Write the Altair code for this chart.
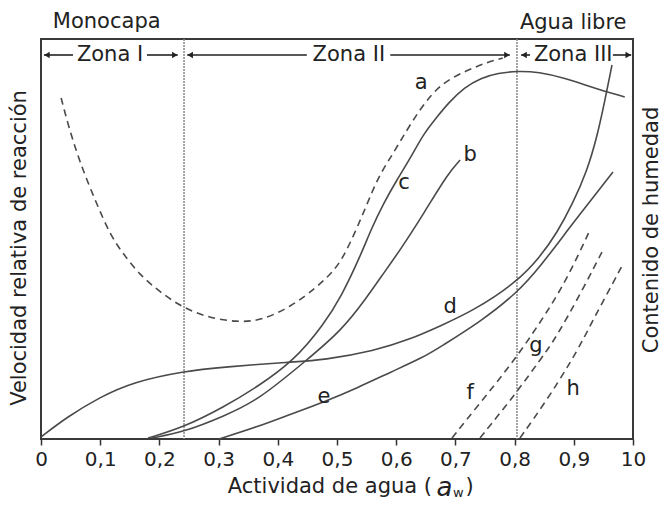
import altair as alt
import pandas as pd

FONT = "DejaVu Sans"
INK = "#222222"
LINE = "#4a4a4a"

# ---- axis ticks ----
x_ticks = [0, 0.1, 0.2, 0.3, 0.4, 0.5, 0.6, 0.7, 0.8, 0.9, 1.0]
x_labels = ["0", "0,1", "0,2", "0,3", "0,4", "0,5", "0,6", "0,7", "0,8", "0,9", "10"]

# ---- curves (x = water activity, y = relative value 0-100) ----
a_x = [0.034, 0.046, 0.059, 0.074, 0.095, 0.117, 0.139, 0.167, 0.201, 0.240, 0.285, 0.331,
       0.370, 0.422, 0.466, 0.495, 0.515, 0.544, 0.559, 0.574, 0.591, 0.608, 0.642, 0.676,
       0.721, 0.755, 0.780]
a_y = [85.25, 78.5, 72.25, 66, 58.5, 51, 46.25, 41, 36.75, 32.75, 30.25, 29.25,
       29.5, 33, 38, 42, 46.5, 56.25, 61.75, 66.5, 70.5, 74.75, 83, 89,
       92.25, 94.25, 95.25]

b_x = [0.1875, 0.242, 0.309, 0.365, 0.449, 0.507, 0.551, 0.573, 0.608, 0.647, 0.688, 0.708]
b_y = [0.25, 1.75, 5.75, 9.5, 19.75, 27, 35.5, 40.25, 47.5, 56.5, 66.5, 69.75]

c_x = [0.181, 0.242, 0.309, 0.365, 0.427, 0.478, 0.507, 0.541, 0.557, 0.579, 0.601, 0.625,
       0.647, 0.669, 0.688, 0.716, 0.743, 0.772, 0.806, 0.840, 0.885, 0.929, 0.986]
c_y = [0.25, 3, 8, 13, 19.5, 28.75, 35.5, 46.25, 52.25, 59, 64.75, 70.5,
       76.5, 80.5, 84, 88, 90.25, 91.5, 92, 91.75, 90.25, 88, 85.5]

d_x = [0, 0.0439, 0.0997, 0.1554, 0.2416, 0.3091, 0.4223, 0.478, 0.5625, 0.625, 0.674,
       0.7297, 0.804, 0.8429, 0.8716, 0.8986, 0.9223, 0.9392, 0.9527, 0.9645]
d_y = [0.5, 5.5, 10.5, 14.25, 17, 18, 19.25, 19.75, 22, 25, 28.25,
       32, 39.25, 45.5, 51.5, 59, 67, 75.5, 84.75, 93.5]

e_x = [0.3007, 0.3649, 0.4223, 0.478, 0.5338, 0.5912, 0.647, 0.674, 0.7416, 0.804,
       0.8429, 0.8986, 0.9662]
e_y = [0, 3, 6.25, 9.25, 12.75, 16.75, 20.5, 23, 29.25, 36.5, 43, 54, 66.75]

f_x = [0.6943, 0.7416, 0.7838, 0.8176, 0.8547, 0.8885, 0.9274]
f_y = [0.25, 9, 16.75, 23.5, 31.75, 40, 52.25]

g_x = [0.7416, 0.804, 0.8429, 0.8649, 0.8885, 0.9189, 0.9476]
g_y = [0.25, 11.75, 19.75, 24.25, 30.25, 38.5, 46.75]

h_x = [0.8091, 0.8547, 0.8936, 0.9155, 0.9324, 0.9814]
h_y = [0.25, 9.75, 19, 24.75, 29.75, 43.25]

curves = [("a", a_x, a_y, "dashed"), ("b", b_x, b_y, "solid"), ("c", c_x, c_y, "solid"),
          ("d", d_x, d_y, "solid"), ("e", e_x, e_y, "solid"), ("f", f_x, f_y, "dashed"),
          ("g", g_x, g_y, "dashed"), ("h", h_x, h_y, "dashed")]

rows = []
for name, xs, ys, style in curves:
    for i, (xv, yv) in enumerate(zip(xs, ys)):
        rows.append({"curva": name, "x": xv, "y": yv, "i": i, "estilo": style})
df = pd.DataFrame(rows)

# ---- curve labels ----
lab_text = ["a", "b", "c", "d", "e", "f", "g", "h"]
lab_x = [0.642, 0.725, 0.613, 0.691, 0.478, 0.725, 0.836, 0.899]
lab_y = [89, 71, 64, 33, 10.5, 11.5, 23.25, 12.5]
df_lab = pd.DataFrame({"x": lab_x, "y": lab_y, "t": lab_text})

# ---- zones ----
zone_bounds = [0.2416, 0.804]
zone_names = ["Zona I", "Zona II", "Zona III"]
zone_name_x = [0.1166, 0.520, 0.899]
zone_y = 96
seg_x = [0.005, 0.179, 0.247, 0.590, 0.811, 0.966]
seg_x2 = [0.054, 0.231, 0.449, 0.792, 0.826, 0.997]
head_x = [0.0101, 0.226, 0.252, 0.787, 0.816, 0.992]
head_shape = ["triangle-left", "triangle-right", "triangle-left", "triangle-right",
              "triangle-left", "triangle-right"]

df_bounds = pd.DataFrame({"x": zone_bounds})
df_seg = pd.DataFrame({"x": seg_x, "x2": seg_x2, "y": [zone_y] * len(seg_x)})
df_head = pd.DataFrame({"x": head_x, "y": [zone_y] * len(head_x), "forma": head_shape})
df_zone = pd.DataFrame({"x": zone_name_x, "y": [zone_y] * 3, "t": zone_names})

top_text = ["Monocapa", "Agua libre"]
top_x = [0.111, 0.899]
top_y = [104.25, 104]
df_top = pd.DataFrame({"x": top_x, "y": top_y, "t": top_text})

# ---- encodings ----
label_expr = "[" + ",".join("'" + s + "'" for s in x_labels) + "][round(datum.value*10)]"
XS = alt.Scale(domain=[0, 1], nice=False, zero=False)
YS = alt.Scale(domain=[0, 100], nice=False, zero=False)
X = alt.X("x:Q", scale=XS, axis=alt.Axis(values=x_ticks, labelExpr=label_expr, title=None,
                                         grid=False, domain=False, ticks=True, tickSize=6,
                                         tickColor="#333", tickWidth=1.5,
                                         labelFont=FONT, labelFontSize=20, labelColor=INK,
                                         labelPadding=4, labelFlush=False))
Y = alt.Y("y:Q", scale=YS, axis=None)

solid = alt.Chart(df[df.estilo == "solid"]).mark_line(
    color=LINE, strokeWidth=1.6, interpolate="basis"
).encode(x=X, y=Y, detail="curva:N", order="i:Q")

dashed = alt.Chart(df[df.estilo == "dashed"]).mark_line(
    color=LINE, strokeWidth=1.6, interpolate="basis", strokeDash=[7, 5]
).encode(x=X, y=Y, detail="curva:N", order="i:Q")

bounds = alt.Chart(df_bounds).mark_rule(color="#888", strokeWidth=1.5, strokeDash=[2, 1]).encode(x=X)

segs = alt.Chart(df_seg).mark_rule(color="#222", strokeWidth=1.6).encode(
    x=X, x2=alt.X2("x2:Q"), y=Y)

heads = alt.Chart(df_head).mark_point(filled=True, color="#222", size=40, opacity=1).encode(
    x=X, y=Y, shape=alt.Shape("forma:N", scale=None))

txt = dict(font=FONT, fontSize=21, color=INK, align="center", baseline="middle")
zone_txt = alt.Chart(df_zone).mark_text(**txt).encode(x=X, y=Y, text="t:N")
top_txt = alt.Chart(df_top).mark_text(**txt).encode(x=X, y=Y, text="t:N")
lab_txt = alt.Chart(df_lab).mark_text(**txt).encode(x=X, y=Y, text="t:N")

# axis titles
df_yt = pd.DataFrame({"x": [-0.0363], "y": [47.75], "t": ["Velocidad relativa de reacción"]})
df_rt = pd.DataFrame({"x": [1.032], "y": [52.25], "t": ["Contenido de humedad"]})
yt = alt.Chart(df_yt).mark_text(angle=270, **txt).encode(x=X, y=Y, text="t:N")
rt = alt.Chart(df_rt).mark_text(angle=270, **txt).encode(x=X, y=Y, text="t:N")

xt_main = alt.Chart(pd.DataFrame({"x": [0.6605], "y": [-12], "t": ["Actividad de agua ("]})).mark_text(
    font=FONT, fontSize=21, color=INK, align="right", baseline="middle").encode(x=X, y=Y, text="t:N")
xt_a = alt.Chart(pd.DataFrame({"x": [0.668], "y": [-12.3], "t": ["a"]})).mark_text(
    font=FONT, fontSize=26, fontStyle="italic", color=INK, align="left", baseline="middle").encode(x=X, y=Y, text="t:N")
xt_w = alt.Chart(pd.DataFrame({"x": [0.696], "y": [-13.5], "t": ["w"]})).mark_text(
    font=FONT, fontSize=13, color=INK, align="left", baseline="middle").encode(x=X, y=Y, text="t:N")
xt_p = alt.Chart(pd.DataFrame({"x": [0.717], "y": [-12], "t": [")"]})).mark_text(
    font=FONT, fontSize=21, color=INK, align="left", baseline="middle").encode(x=X, y=Y, text="t:N")

chart = alt.layer(
    bounds, solid, dashed, segs, heads, zone_txt, top_txt, lab_txt, yt, rt,
    xt_main, xt_a, xt_w, xt_p
).properties(
    width=592, height=400,
    autosize=alt.AutoSizeParams(type="none"),
    padding={"left": 33, "top": 31, "right": 31, "bottom": 61},
    background="white",
).configure_view(stroke="#3a3a3a", strokeWidth=2)

chart.save("out.html", embed_options={"renderer": "svg", "actions": False})
